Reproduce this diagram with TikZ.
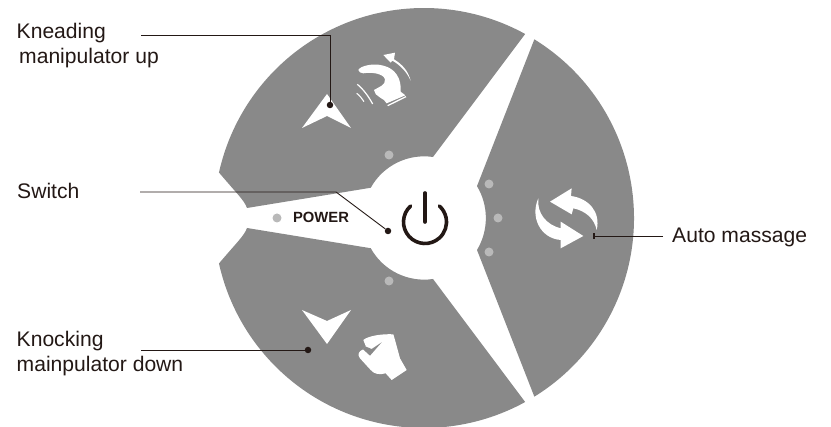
\documentclass[tikz,border=0pt]{standalone}
\usepackage{fontspec}
\setmainfont{Liberation Sans}
\usetikzlibrary{arrows.meta,positioning,calc}
\definecolor{panel}{HTML}{898989}
\definecolor{ledgrey}{HTML}{B9B9B9}
\definecolor{ink}{HTML}{231815}

\begin{document}
\begin{tikzpicture}[
  x=1pt, y=1pt, font=\fontsize{21.1}{25.5}\selectfont, text=ink,
  lab/.style={anchor=base west, inner sep=0pt},
  leader/.style={draw=ink, line width=0.9pt},
  tip/.style={circle, fill=ink, inner sep=0pt, minimum size=6.5pt},
  led/.style={circle, fill=ledgrey, inner sep=0pt, minimum size=9pt},
  sect/.style={fill=panel},
]
  \useasboundingbox (0,0) rectangle (831,427);
  \coordinate (hub) at (424,209);

  % three panels
  \fill[sect] (hub) ++(58.3:210) arc[start angle=58.3, end angle=-58.3, radius=210]
    -- (477,177) arc[start angle=-31, end angle=31, radius=62] -- cycle;
  \fill[sect] (hub) ++(167.5:210) arc[start angle=167.5, end angle=61.2, radius=210]
    -- (433,270) arc[start angle=81.6, end angle=151, radius=61]
    -- (247,219) .. controls (244,227) and (238,232) .. cycle;
  \fill[sect] (hub) ++(192.5:210) arc[start angle=192.5, end angle=298.8, radius=210]
    -- (433,148) arc[start angle=-81.6, end angle=-151, radius=61]
    -- (247,199) .. controls (244,191) and (238,186) .. cycle;

  % leds
  \node[led] (ledtop) at (389,272) {};
  \node[led] (ledbot) at (389,146) {};
  \node[led] (ledauta) at (489,243) {};
  \node[led] (ledautb) at (498,209) {};
  \node[led] (ledautc) at (489,175) {};
  \node[led] (ledpow) at (277,209) {};
  \node[inner sep=0pt, font=\fontsize{14.8}{16}\selectfont\bfseries] (power) at (321,210) {POWER};

  % power symbol
  \draw[ink, line width=3.6pt, line cap=round] (425,205) ++(132:21.5) arc[start angle=132, end angle=408, radius=21.5];
  \draw[ink, line width=3.6pt, line cap=round] (425,234) -- (425,205);

  % arrows
  \fill[white] (327,333) -- (351,299) -- (327,311) -- (302,299) -- cycle;
  \fill[white] (327,83) -- (351,117) -- (327,106) -- (302,117) -- cycle;

  % kneading hand
  \begin{scope}[shift={(350,377)}, x=0.3333pt, y=-0.3333pt]
    \fill[white] (25,60) .. controls (30,48) and (70,38) .. (100,47)
      .. controls (135,55) and (155,85) .. (152,125) -- (166,136) -- (110,160)
      .. controls (105,145) and (72,140) .. (72,120)
      .. controls (85,112) and (108,105) .. (105,88)
      .. controls (100,70) and (65,66) .. (40,70)
      .. controls (32,70) and (27,66) .. (25,60) -- cycle;
    \draw[white, line width=1.3pt] (113,167) -- (168,140);
    \draw[white, line width=1.1pt] (20,130) .. controls (28,135) and (35,145) .. (42,155);
    \draw[white, line width=1.2pt] (22,103) .. controls (40,118) and (55,138) .. (68,162);
    \fill[white] (182,92) .. controls (175,65) and (160,45) .. (132,28) -- (135,8) -- (100,15) -- (122,38) -- (127,32)
      .. controls (150,45) and (170,65) .. (182,92) -- cycle;
  \end{scope}

  % fist
  \begin{scope}[shift={(350,102)}, x=0.3333pt, y=-0.3333pt]
    \fill[white] (40,45) .. controls (55,32) and (100,26) .. (130,28)
      -- (135,45) -- (150,100) -- (170,135) -- (125,165) -- (107,145)
      .. controls (90,150) and (72,148) .. (62,135) -- (30,100)
      .. controls (20,88) and (28,78) .. (38,74) -- (48,65) -- cycle;
    \fill[panel] (38,72) -- (60,92) -- (95,52) -- (65,72) -- (48,65) -- cycle;
  \end{scope}

  % rotating arrows
  \begin{scope}[shift={(525,247)}, x=0.3333pt, y=-0.3333pt]
    \fill[white] (75,65) -- (140,25) -- (138,48) .. controls (190,55) and (228,95) .. (215,150)
      .. controls (208,115) and (180,92) .. (145,85) -- (140,103) -- cycle;
    \fill[white] (175,168) -- (107,125) -- (107,145) .. controls (65,135) and (35,100) .. (40,55)
      .. controls (15,110) and (45,175) .. (107,180) -- (107,205) -- cycle;
  \end{scope}

  % labels
  \node[lab] (knead) at (16.5,388) {Kneading};
  \node[lab] (kneadb) at (19,363.5) {manipulator up};
  \node[lab] (switch) at (17,228) {Switch};
  \node[lab] (knock) at (16.5,80.5) {Knocking};
  \node[lab] (knockb) at (16.5,55.5) {mainpulator down};
  \node[lab] (auto) at (672,184) {Auto massage};

  % leader ends
  \coordinate (kneadend) at (141,392);
  \coordinate (switchend) at (140,235);
  \coordinate (knockend) at (141,77);
  \coordinate (autoend) at (663,191);
  \node[tip] (kneadtip) at (330,322) {};
  \node[tip] (switchtip) at (388,196) {};
  \node[tip] (knocktip) at (308,77) {};
  \node[inner sep=0pt, minimum width=2.5pt, minimum height=6pt, fill=ink] (autotip) at (594,191) {};

  \draw[leader] (kneadend) -- (kneadend -| kneadtip) -- (kneadtip);
  \draw[leader] (switchend) -- (336,235) -- (switchtip);
  \draw[leader] (knockend) -- (knocktip);
  \draw[leader] (autoend) -- (autotip);
\end{tikzpicture}
\end{document}
